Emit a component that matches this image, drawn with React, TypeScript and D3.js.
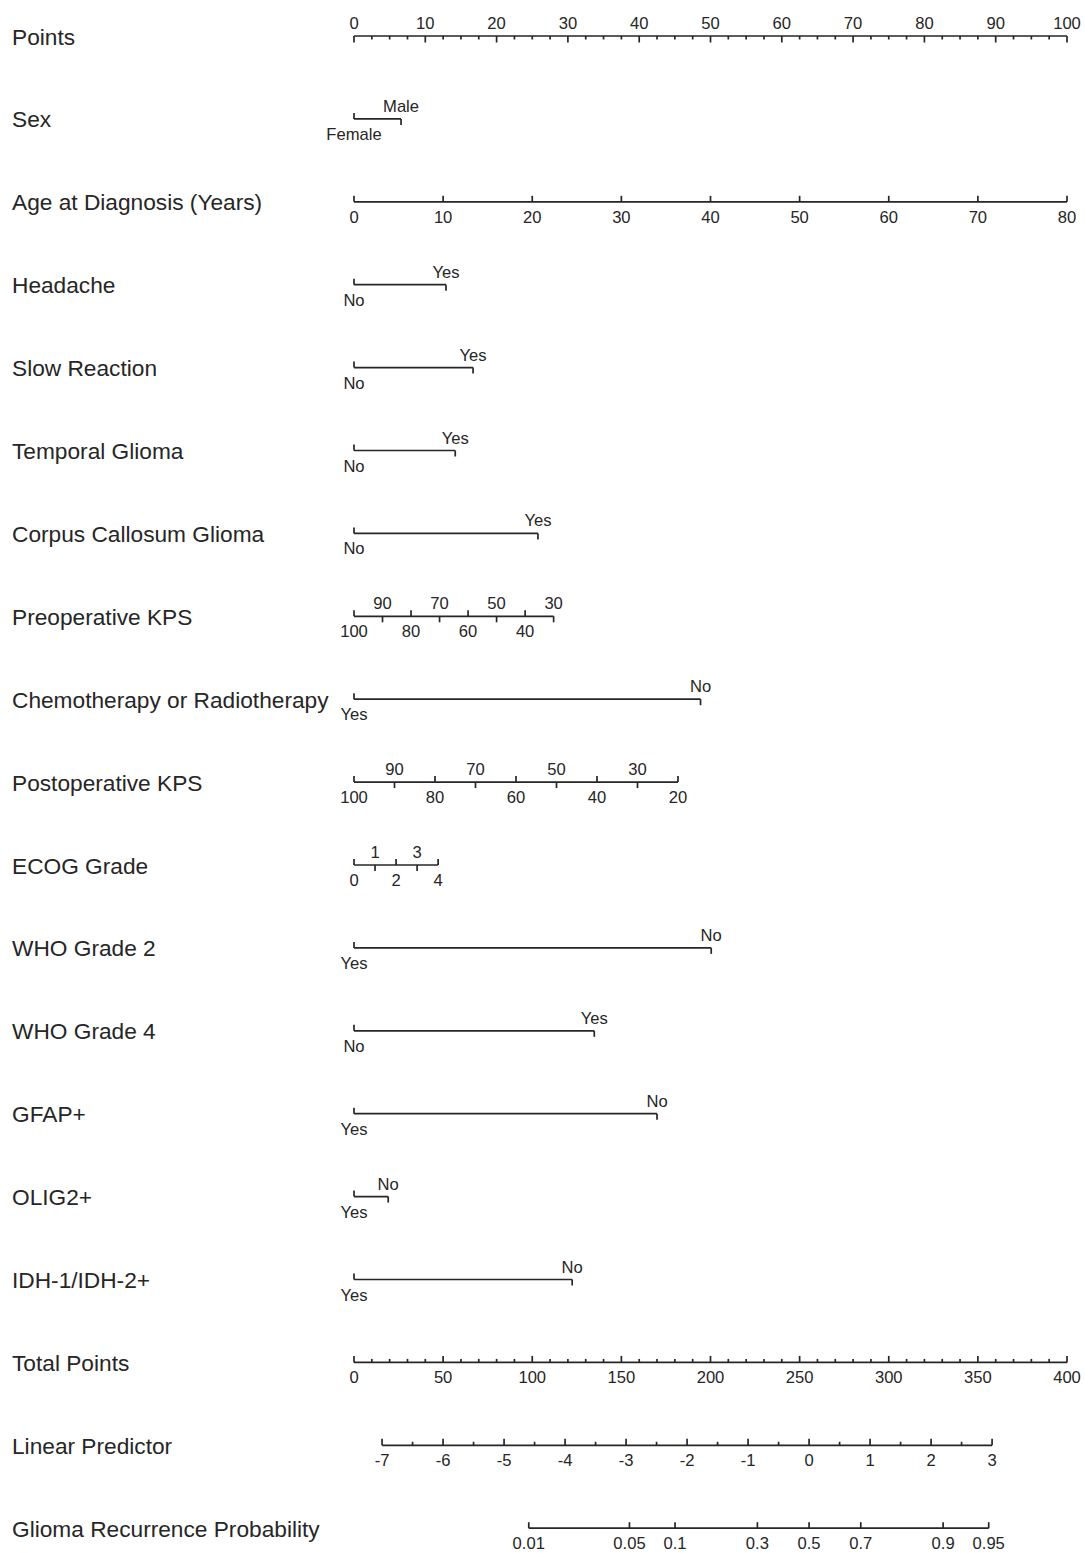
import React from "react";
import * as d3 from "d3";

// ---- data ----
const rowLabels = [
  "Points",
  "Sex",
  "Age at Diagnosis (Years)",
  "Headache",
  "Slow Reaction",
  "Temporal Glioma",
  "Corpus Callosum Glioma",
  "Preoperative KPS",
  "Chemotherapy or Radiotherapy",
  "Postoperative KPS",
  "ECOG Grade",
  "WHO Grade 2",
  "WHO Grade 4",
  "GFAP+",
  "OLIG2+",
  "IDH-1/IDH-2+",
  "Total Points",
  "Linear Predictor",
  "Glioma Recurrence Probability",
];

const pointsMajor = [0, 10, 20, 30, 40, 50, 60, 70, 80, 90, 100];

const sexLevels = ["Female", "Male"];
const sexPoints = [0, 6.6];
const ageLevels = ["0", "10", "20", "30", "40", "50", "60", "70", "80"];
const agePoints = [0, 12.5, 25, 37.5, 50, 62.5, 75, 87.5, 100];
const headacheLevels = ["No", "Yes"];
const headachePoints = [0, 12.9];
const slowLevels = ["No", "Yes"];
const slowPoints = [0, 16.7];
const temporalLevels = ["No", "Yes"];
const temporalPoints = [0, 14.2];
const corpusLevels = ["No", "Yes"];
const corpusPoints = [0, 25.8];
const preKpsLevels = ["100", "90", "80", "70", "60", "50", "40", "30"];
const preKpsPoints = [0, 4, 8, 12, 16, 20, 24, 28];
const chemoLevels = ["Yes", "No"];
const chemoPoints = [0, 48.6];
const postKpsLevels = ["100", "90", "80", "70", "60", "50", "40", "30", "20"];
const postKpsPoints = [0, 5.68, 11.36, 17.04, 22.72, 28.4, 34.08, 39.76, 45.44];
const ecogLevels = ["0", "1", "2", "3", "4"];
const ecogPoints = [0, 2.95, 5.9, 8.85, 11.8];
const who2Levels = ["Yes", "No"];
const who2Points = [0, 50.1];
const who4Levels = ["No", "Yes"];
const who4Points = [0, 33.7];
const gfapLevels = ["Yes", "No"];
const gfapPoints = [0, 42.5];
const olig2Levels = ["Yes", "No"];
const olig2Points = [0, 4.8];
const idhLevels = ["Yes", "No"];
const idhPoints = [0, 30.6];

const totalMajor = [0, 50, 100, 150, 200, 250, 300, 350, 400];
const lpTicks = [-7, -6, -5, -4, -3, -2, -1, 0, 1, 2, 3];
const probTicks = [0.01, 0.05, 0.1, 0.3, 0.5, 0.7, 0.9, 0.95];
const probLabels = ["0.01", "0.05", "0.1", "0.3", "0.5", "0.7", "0.9", "0.95"];
const lpIntercept = -7.46; // linear predictor at 0 total points
const lpSlope = 0.02922; // per total point

// ---- layout ----
const W = 1085;
const H = 1553;
const X0 = 354;
const X1 = 1067;
const rowY0 = 36;
const rowStep = 82.9;
const INK = "#262626";
const FONT = "'Liberation Sans', Arial, Helvetica, sans-serif";
const labelSize = 22.7;
const tickSize = 16.6;
const SW = 1.7;

const xPts = d3.scaleLinear().domain([0, 100]).range([X0, X1]);
const xTot = d3.scaleLinear().domain([0, 400]).range([X0, X1]);
const lpToTotal = (lp: number) => (lp - lpIntercept) / lpSlope;

const rowY = (i: number) => rowY0 + i * rowStep;

function VarRow({ y, levels, points }: { y: number; levels: string[]; points: number[] }) {
  const xs = points.map((p) => xPts(p));
  const xmin = d3.min(xs)!;
  const xmax = d3.max(xs)!;
  return (
    <g>
      <line x1={xmin} x2={xmax} y1={y} y2={y} stroke={INK} strokeWidth={SW} />
      {levels.map((lab, i) => {
        const below = i % 2 === 0;
        const x = xs[i];
        return (
          <g key={lab + i}>
            <line x1={x} x2={x} y1={y} y2={below ? y - 6 : y + 6} stroke={INK} strokeWidth={SW} />
            <text
              x={x}
              y={below ? y + 21 : y - 7}
              textAnchor="middle"
              fontSize={tickSize}
              fill={INK}
            >
              {lab}
            </text>
          </g>
        );
      })}
    </g>
  );
}

export default function App() {
  const catRows: [string[], number[]][] = [
    [sexLevels, sexPoints],
    [ageLevels, agePoints],
    [headacheLevels, headachePoints],
    [slowLevels, slowPoints],
    [temporalLevels, temporalPoints],
    [corpusLevels, corpusPoints],
    [preKpsLevels, preKpsPoints],
    [chemoLevels, chemoPoints],
    [postKpsLevels, postKpsPoints],
    [ecogLevels, ecogPoints],
    [who2Levels, who2Points],
    [who4Levels, who4Points],
    [gfapLevels, gfapPoints],
    [olig2Levels, olig2Points],
    [idhLevels, idhPoints],
  ];

  const yP = rowY(0);
  const pointsMinor = d3.range(0, 100.01, 2.5);
  const yT = rowY(16);
  const totalMinor = d3.range(0, 400.01, 10);
  const yL = rowY(17);
  const lpMinor = d3.range(-7, 3.01, 0.5);
  const yPr = rowY(18);
  const logit = (p: number) => Math.log(p / (1 - p));

  return (
    <svg
      width={W}
      height={H}
      style={{ position: "absolute", left: 0, top: 0, background: "#fff" }}
      fontFamily={FONT}
    >
      <rect width={W} height={H} fill="#fff" />
      {rowLabels.map((l, i) => (
        <text key={l} x={12} y={rowY(i) + 8.5} fontSize={labelSize} fill={INK}>
          {l}
        </text>
      ))}

      {/* Points axis */}
      <g>
        <line x1={X0} x2={X1} y1={yP} y2={yP} stroke={INK} strokeWidth={SW} />
        {pointsMinor.map((v) => {
          const major = Math.abs(v % 10) < 1e-6;
          return (
            <line
              key={v}
              x1={xPts(v)}
              x2={xPts(v)}
              y1={yP}
              y2={yP + (major ? 6.5 : 3.5)}
              stroke={INK}
              strokeWidth={SW}
            />
          );
        })}
        {pointsMajor.map((v) => (
          <text key={v} x={xPts(v)} y={yP - 7} textAnchor="middle" fontSize={tickSize} fill={INK}>
            {v}
          </text>
        ))}
      </g>

      {catRows.map(([levels, pts], i) => {
        const y = rowY(i + 1);
        if (i === 1) {
          // Age axis: ticks up, labels below
          return (
            <g key={i}>
              <line x1={xPts(pts[0])} x2={xPts(pts[pts.length - 1])} y1={y} y2={y} stroke={INK} strokeWidth={SW} />
              {levels.map((lab, j) => (
                <g key={lab}>
                  <line x1={xPts(pts[j])} x2={xPts(pts[j])} y1={y} y2={y - 6} stroke={INK} strokeWidth={SW} />
                  <text x={xPts(pts[j])} y={y + 21} textAnchor="middle" fontSize={tickSize} fill={INK}>
                    {lab}
                  </text>
                </g>
              ))}
            </g>
          );
        }
        return <VarRow key={i} y={y} levels={levels} points={pts} />;
      })}

      {/* Total points */}
      <g>
        <line x1={X0} x2={X1} y1={yT} y2={yT} stroke={INK} strokeWidth={SW} />
        {totalMinor.map((v) => {
          const major = Math.abs(v % 50) < 1e-6;
          return (
            <line
              key={v}
              x1={xTot(v)}
              x2={xTot(v)}
              y1={yT}
              y2={yT - (major ? 6.5 : 3.5)}
              stroke={INK}
              strokeWidth={SW}
            />
          );
        })}
        {totalMajor.map((v) => (
          <text key={v} x={xTot(v)} y={yT + 21} textAnchor="middle" fontSize={tickSize} fill={INK}>
            {v}
          </text>
        ))}
      </g>

      {/* Linear predictor */}
      <g>
        <line
          x1={xTot(lpToTotal(-7))}
          x2={xTot(lpToTotal(3))}
          y1={yL}
          y2={yL}
          stroke={INK}
          strokeWidth={SW}
        />
        {lpMinor.map((v) => {
          const major = Math.abs(v - Math.round(v)) < 1e-6;
          return (
            <line
              key={v}
              x1={xTot(lpToTotal(v))}
              x2={xTot(lpToTotal(v))}
              y1={yL}
              y2={yL - (major ? 6.5 : 3.5)}
              stroke={INK}
              strokeWidth={SW}
            />
          );
        })}
        {lpTicks.map((v) => (
          <text key={v} x={xTot(lpToTotal(v))} y={yL + 21} textAnchor="middle" fontSize={tickSize} fill={INK}>
            {v}
          </text>
        ))}
      </g>

      {/* Probability */}
      <g>
        <line
          x1={xTot(lpToTotal(logit(probTicks[0])))}
          x2={xTot(lpToTotal(logit(probTicks[probTicks.length - 1])))}
          y1={yPr}
          y2={yPr}
          stroke={INK}
          strokeWidth={SW}
        />
        {probTicks.map((p, i) => {
          const x = xTot(lpToTotal(logit(p)));
          return (
            <g key={p}>
              <line x1={x} x2={x} y1={yPr} y2={yPr - 6} stroke={INK} strokeWidth={SW} />
              <text x={x} y={yPr + 21} textAnchor="middle" fontSize={tickSize} fill={INK}>
                {probLabels[i]}
              </text>
            </g>
          );
        })}
      </g>
    </svg>
  );
}
